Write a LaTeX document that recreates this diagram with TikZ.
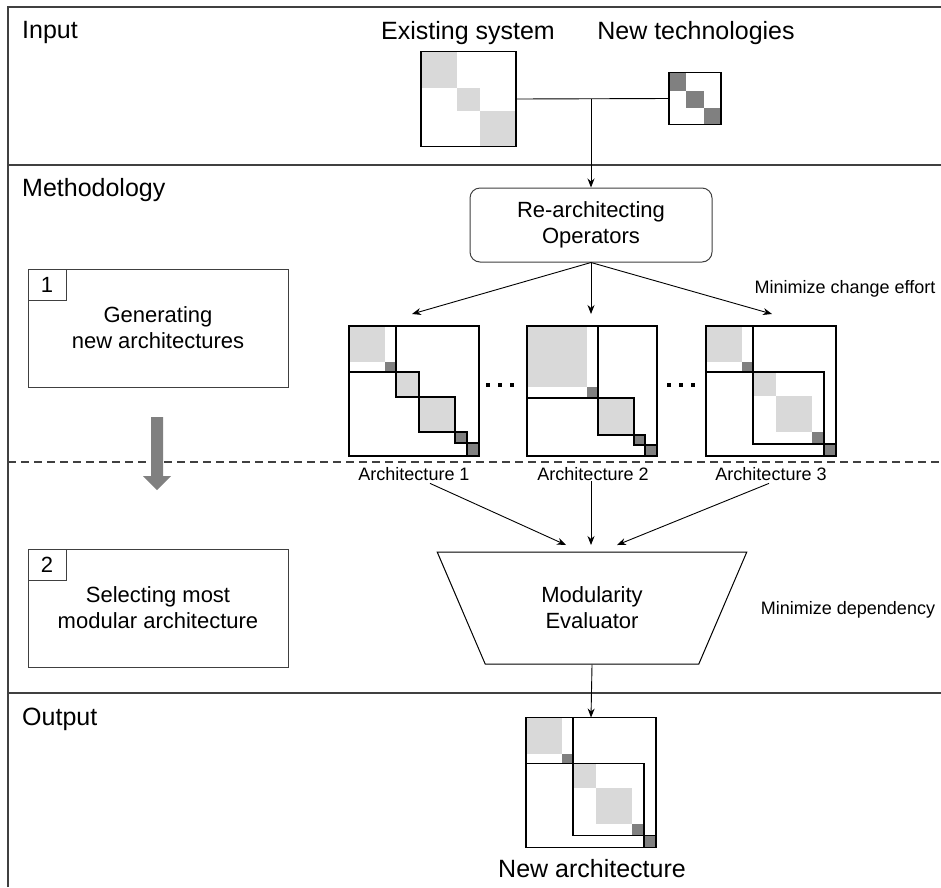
\documentclass[tikz,border=0pt]{standalone}
\usepackage{fontspec}
\setmainfont{Liberation Sans}
\usetikzlibrary{arrows.meta,calc,shapes.geometric}

\definecolor{blocklight}{HTML}{D9D9D9}
\definecolor{blockdark}{HTML}{808080}
\definecolor{framegray}{HTML}{404040}

\newcommand\fbig{\fontsize{25}{30}\selectfont}
\newcommand\fmid{\fontsize{22}{26}\selectfont}
\newcommand\fsmall{\fontsize{18}{21}\selectfont}

\tikzset{
  frameline/.style={line width=1.3pt, framegray},
  matslot/.style={rectangle, inner sep=0pt, outer sep=0pt, minimum size=#1},
  mline/.style={line width=1.6pt, draw=black},
  lite/.style={fill=blocklight},
  dark/.style={fill=blockdark},
  flow/.style={line width=0.9pt, -{Stealth[length=9pt,width=7pt]}},
  plainline/.style={line width=0.9pt},
  stepbox/.style={draw=framegray, line width=1pt, rectangle, inner sep=0pt,
    minimum width=260pt, minimum height=118pt, align=center, font=\fmid},
  numbox/.style={draw=framegray, line width=1pt, rectangle, inner sep=0pt,
    minimum width=38pt, minimum height=31pt, font=\fmid},
  seclabel/.style={anchor=base west, font=\fbig, inner sep=0pt},
  archlabel/.style={anchor=base, font=\fsmall, inner sep=1pt},
  dotsq/.style={fill=black, minimum size=4pt, inner sep=0pt, rectangle},
}

\begin{document}
\begin{tikzpicture}[x=1pt, y=-1pt]
\useasboundingbox (0,0) rectangle (941,887);
\fill[white] (0,0) rectangle (941,887);

% ---- swim lanes ----
\draw[frameline] (8,887) -- (8,7) -- (941,7);
\draw[frameline] (8,165) -- (941,165);
\draw[frameline, dash pattern=on 8pt off 5pt] (8,462) -- (941,462);
\draw[frameline] (8,693) -- (941,693);

\node[seclabel] (lin)  at (22,38)  {Input};
\node[seclabel] (lmet) at (22,196) {Methodology};
\node[seclabel] (lout) at (22,725) {Output};

% ---- input matrices ----
\node[anchor=base, font=\fbig, inner sep=0pt] (tex) at (468,39) {Existing system};
\node[anchor=base, font=\fbig, inner sep=0pt] (tnt) at (696,39) {New technologies};

\node[matslot=95pt] (ex) at (468.5,99) {};
\begin{scope}[shift={(ex.north west)}]
  \fill[lite] (0,0) rectangle (36,36);
  \fill[lite] (36,36) rectangle (59,59);
  \fill[lite] (59,59) rectangle (95,95);
\end{scope}
\draw[mline] (ex.north west) rectangle (ex.south east);

\node[matslot=52pt] (nt) at (695,98.5) {};
\begin{scope}[shift={(nt.north west)}]
  \fill[dark] (0,0) rectangle (17,18);
  \fill[dark] (17,18) rectangle (35,35);
  \fill[dark] (35,35) rectangle (52,52);
\end{scope}
\draw[mline] (nt.north west) rectangle (nt.south east);

\coordinate (jn) at (591,99);
\draw[plainline] (ex.east) -- (nt.west);

% ---- re-architecting operators ----
\node[draw=framegray, line width=1pt, rounded corners=10pt, minimum width=242pt,
      minimum height=74pt, inner sep=0pt, align=center, font=\fmid] (ro)
      at (591,225) {Re-architecting\\Operators};
\draw[flow] (jn) -- (ro.north);

\node[anchor=base, font=\fsmall, inner sep=0pt] (mce) at (845,293) {Minimize change effort};

% ---- step boxes ----
\node[stepbox] (b1) at (158,328) {Generating\\new architectures};
\node[numbox, anchor=north west] (n1) at (b1.north west) {1};
\node[stepbox] (b2) at (158,608) {Selecting most\\modular architecture};
\node[numbox, anchor=north west] (n2) at (b2.north west) {2};

% step-to-step arrow
\fill[blockdark] (151,417) -- (163,417) -- (163,476) -- (171,476) -- (157,490)
  -- (143,476) -- (151,476) -- cycle;

% ---- architecture 1 ----
\node[matslot=130pt] (a1) at (414,391) {};
\begin{scope}[shift={(a1.north west)}]
  \fill[lite] (0,0) rectangle (36,36);
  \fill[dark] (36,36) rectangle (47,46);
  \draw[mline] (47,0) -- (47,46) -- (0,46);
  \filldraw[lite, mline] (47,46) rectangle (70,71);
  \filldraw[lite, mline] (70,71) rectangle (106,106);
  \filldraw[dark, mline] (106,106) rectangle (118,117);
  \filldraw[dark, mline] (118,117) rectangle (130,130);
\end{scope}
\draw[mline] (a1.north west) rectangle (a1.south east);

% ---- architecture 2 ----
\node[matslot=130pt] (a2) at (592,391) {};
\begin{scope}[shift={(a2.north west)}]
  \fill[lite] (0,0) rectangle (60,61);
  \fill[dark] (60,61) rectangle (71,72);
  \draw[mline] (71,0) -- (71,109);
  \draw[mline] (0,72) -- (71,72);
  \filldraw[lite, mline] (71,72) rectangle (107,109);
  \filldraw[dark, mline] (107,109) rectangle (118,119);
  \filldraw[dark, mline] (118,119) rectangle (130,130);
\end{scope}
\draw[mline] (a2.north west) rectangle (a2.south east);

% ---- architecture 3 ----
\node[matslot=130pt] (a3) at (771,391) {};
\begin{scope}[shift={(a3.north west)}]
  \fill[lite] (0,0) rectangle (36,36);
  \fill[dark] (36,36) rectangle (47,46);
  \fill[lite] (47,46) rectangle (70,70);
  \fill[lite] (70,70) rectangle (106,106);
  \fill[dark] (106,106) rectangle (118,118);
  \draw[mline] (47,0) -- (47,46) -- (0,46);
  \draw[mline] (47,46) rectangle (118,118);
  \filldraw[dark, mline] (118,118) rectangle (130,130);
\end{scope}
\draw[mline] (a3.north west) rectangle (a3.south east);

% ellipses between candidates
\node[dotsq] (d1) at (488,385) {};
\node[dotsq] (d2) at (500,385) {};
\node[dotsq] (d3) at (512,385) {};
\node[dotsq] (d4) at (669,385) {};
\node[dotsq] (d5) at (681,385) {};
\node[dotsq] (d6) at (693,385) {};

\node[archlabel] (l1) at (414,480) {Architecture 1};
\node[archlabel] (l2) at (593,480) {Architecture 2};
\node[archlabel] (l3) at (771,480) {Architecture 3};

% operators to candidates
\coordinate (t1) at (412,314);
\coordinate (t2) at (591,314);
\coordinate (t3) at (772,314);
\draw[flow] (ro.south) -- (t1);
\draw[flow] (ro.south) -- (t2);
\draw[flow] (ro.south) -- (t3);

% ---- modularity evaluator ----
\node[draw=black, line width=1pt, trapezium, trapezium angle=61.6,
      trapezium stretches=true, shape border rotate=180,
      minimum width=310pt, minimum height=112pt, inner sep=0pt,
      align=center, font=\fmid] (ev) at (592,608) {Modularity\\Evaluator};

\coordinate (e1) at (566,545);
\coordinate (e2) at (591,545);
\coordinate (e3) at (617,545);
\draw[flow] ($(l1.south)+(16,2)$) -- (e1);
\draw[flow] (l2.south -| e2) -- (e2);
\draw[flow] ($(l3.south)+(-2,2)$) -- (e3);

\node[anchor=base, font=\fsmall, inner sep=0pt] (mdp) at (848,614) {Minimize dependency};

% ---- output ----
\node[matslot=130pt] (on) at (591,782.5) {};
\begin{scope}[shift={(on.north west)}]
  \fill[lite] (0,0) rectangle (36,36);
  \fill[dark] (36,36) rectangle (47,46);
  \fill[lite] (47,46) rectangle (70,70);
  \fill[lite] (70,70) rectangle (106,106);
  \fill[dark] (106,106) rectangle (118,118);
  \draw[mline] (47,0) -- (47,46) -- (0,46);
  \draw[mline] (47,46) rectangle (118,118);
  \filldraw[dark, mline] (118,118) rectangle (130,130);
\end{scope}
\draw[mline] (on.north west) rectangle (on.south east);
\draw[flow] (ev.south) -- (on.north);

\node[anchor=base, font=\fbig, inner sep=0pt] (lna) at (592,877) {New architecture};
\end{tikzpicture}
\end{document}
